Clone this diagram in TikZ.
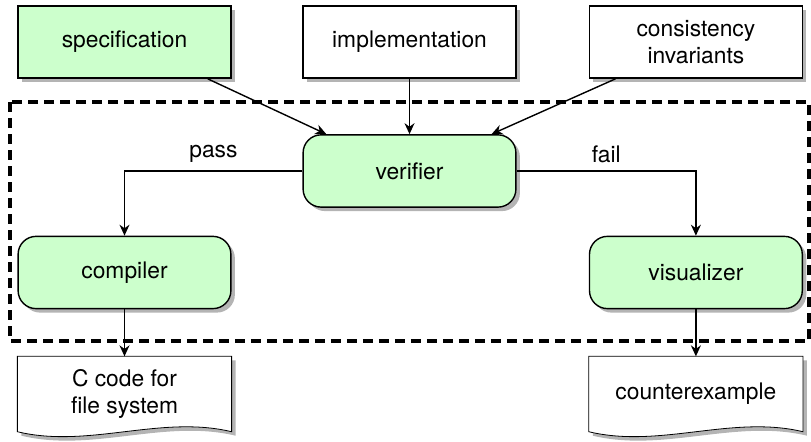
\documentclass[tikz,border=0pt]{standalone}
\usepackage{fontspec}
\setmainfont{TeX Gyre Heros}
\usetikzlibrary{arrows.meta}
\usetikzlibrary{shadows}
\usetikzlibrary{backgrounds}

\definecolor{boxgreen}{RGB}{204,255,204}
\definecolor{shadowgray}{RGB}{180,180,180}

% outline of a document sheet with a wavy lower edge
\newcommand{\docpath}[2]{([shift={#2}]#1.north west) -- ([shift={#2}]#1.north east) -- ([shift={#2}]#1.south east) .. controls +(-1.25,0.3) and +(1.25,-0.3) .. ([shift={#2}]#1.south west) -- cycle}
\newcommand{\docshape}[1]{\fill[shadowgray] \docpath{#1}{(0.07,-0.07)}; \draw[fill=white] \docpath{#1}{(0,0)};}

\begin{document}
\begin{tikzpicture}[line width=0.7pt,>={Stealth[length=5.5pt,width=5pt,inset=1.8pt]},
font=\fontsize{11.4}{13.6}\selectfont,
inbox/.style={draw,rectangle,fill=white,minimum width=3.74cm,minimum height=1.27cm,align=center,
  drop shadow={shadow xshift=0.07cm,shadow yshift=-0.07cm,fill=shadowgray,opacity=1}},
toolbox/.style={inbox,fill=boxgreen,rounded corners=9pt},
docbox/.style={rectangle,minimum width=3.74cm,minimum height=1.3cm,align=center},
dashframe/.style={draw,line width=1.8pt,dash pattern=on 5pt off 3pt}]
\useasboundingbox (0,0) rectangle (14.253,-7.751);
\draw (2.188,-0.738) node[inbox,fill=boxgreen] (spec) {specification};
\draw (7.197,-0.738) node[inbox] (impl) {implementation};
\draw (12.23,-0.738) node[inbox] (inv) {consistency\\invariants};
\draw (7.197,-3.005) node[toolbox] (verif) {verifier};
\draw (2.188,-4.789) node[toolbox] (comp) {compiler};
\draw (12.23,-4.789) node[toolbox] (vis) {visualizer};
\draw (2.188,-6.925) node[docbox] (ccode) {C code for\\file system};
\draw (12.23,-6.925) node[docbox] (cex) {counterexample};
\begin{scope}[on background layer]
\docshape{ccode}
\docshape{cex}
\end{scope}
\draw[dashframe] (0.176,-1.793) rectangle (14.218,-5.993);
\draw[->] ([xshift=-0.42cm]spec.south east) -- ([xshift=0.42cm]verif.north west);
\draw[->] (impl.south) -- (verif.north);
\draw[->] ([xshift=0.47cm]inv.south west) -- ([xshift=-0.44cm]verif.north east);
\draw[->] (verif.west) -| node[pos=.25,above=0.5pt] {pass} (comp.north);
\draw[->] (verif.east) -| node[pos=.25,above=0.5pt] {fail} (vis.north);
\draw[->] (comp.south) -- (ccode.north);
\draw[->] (vis.south) -- (cex.north);
\end{tikzpicture}
\end{document}
